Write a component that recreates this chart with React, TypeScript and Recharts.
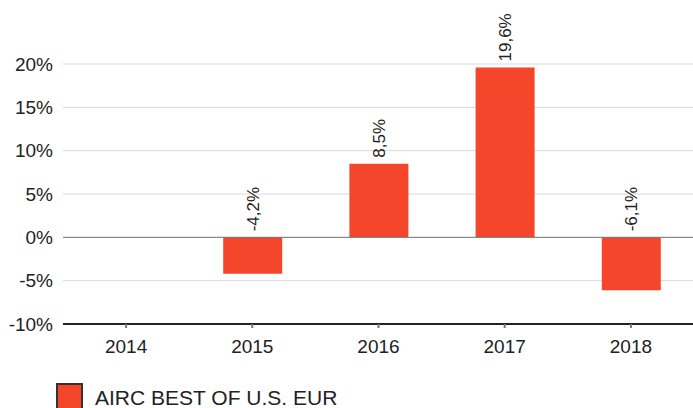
import React from "react";
import { BarChart, Bar, XAxis, YAxis, CartesianGrid, ReferenceLine, LabelList } from "recharts";

const years = ["2014", "2015", "2016", "2017", "2018"];
const returns: (number | null)[] = [null, -4.2, 8.5, 19.6, -6.1];
const yTicks = [-10, -5, 0, 5, 10, 15, 20];
const seriesName = "AIRC BEST OF U.S. EUR";
const barColor = "#f5452a";

const data = years.map((y, i) => ({ year: y, value: returns[i] }));

const fmt = (v: number) => v.toFixed(1).replace(".", ",") + "%";

const RotLabel = (props: any) => {
  const { x, y, width, height, value } = props;
  if (value === null || value === undefined) return null;
  const top = Math.min(y, y + height);
  const cx = x + width / 2;
  const ty = top - 6;
  return (
    <text
      x={cx}
      y={ty}
      transform={`rotate(-90, ${cx}, ${ty})`}
      textAnchor="start"
      dy="0.36em"
      fontSize={17}
      fill="#222"
      fontFamily="'Liberation Sans', Arial, sans-serif"
    >
      {fmt(value)}
    </text>
  );
};

export default function App() {
  return (
    <div style={{ position: "absolute", left: 0, top: 0, width: 693, height: 408, overflow: "hidden", background: "#fff" }}>
      <BarChart
        width={694}
        height={408}
        data={data}
        margin={{ top: 64, right: 0, bottom: 54, left: 0 }}
        style={{ fontFamily: "'Liberation Sans', Arial, sans-serif" }}
      >
        <CartesianGrid vertical={false} stroke="#d9d9d9" />
        <XAxis
          dataKey="year"
          height={30}
          tickSize={4}
          tickMargin={12}
          axisLine={{ stroke: "#222", strokeWidth: 2 }}
          tickLine={{ stroke: "#777", strokeWidth: 2 }}
          tick={{ fill: "#222", fontSize: 19 }}
        />
        <YAxis
          width={63}
          domain={[-10, 20]}
          ticks={yTicks}
          interval={0}
          axisLine={false}
          tickLine={false}
          tickSize={0}
          tickMargin={10}
          tickFormatter={(v: number) => `${v}%`}
          tick={{ fill: "#222", fontSize: 19 }}
        />
        <ReferenceLine y={0} stroke="#777" strokeWidth={1} />
        <Bar dataKey="value" fill={barColor} barSize={59} isAnimationActive={false}>
          <LabelList dataKey="value" content={RotLabel} />
        </Bar>
      </BarChart>
      <div
        style={{
          position: "absolute",
          left: 56,
          top: 383,
          display: "flex",
          alignItems: "flex-start",
          fontFamily: "'Liberation Sans', Arial, sans-serif",
          fontSize: 21,
          color: "#222",
          whiteSpace: "nowrap",
        }}
      >
        <div style={{ width: 23, height: 23, background: barColor, border: "2px solid #333", marginRight: 12 }} />
        <div style={{ lineHeight: "28px", marginTop: 1 }}>{seriesName}</div>
      </div>
    </div>
  );
}
